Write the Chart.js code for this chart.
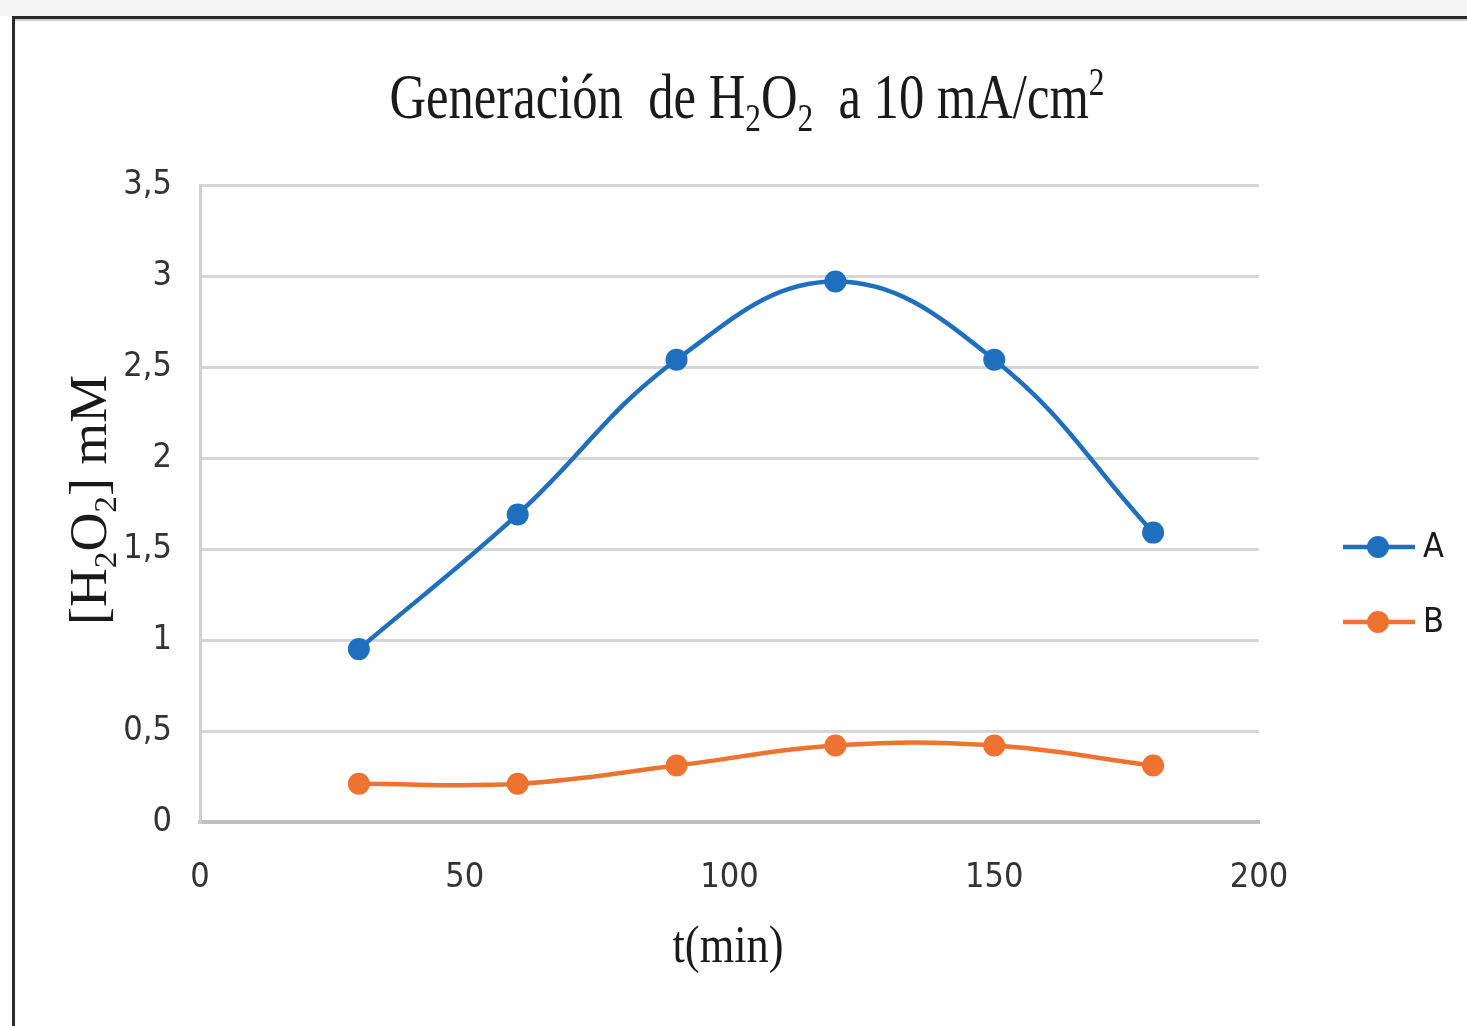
<!DOCTYPE html>
<html>
<head>
<meta charset="utf-8">
<script src="https://cdn.jsdelivr.net/npm/chart.js@4/dist/chart.umd.min.js"></script>
<style>
  html, body { margin: 0; padding: 0; background: #ffffff; }
  #lienzo { display: block; }
</style>
</head>
<body>
<canvas id="lienzo" width="1467" height="1026"></canvas>
<script>
/* ---------------- DATOS ---------------- */

const tiempos = [30, 60, 90, 120, 150, 180];
const serieA = [0.95, 1.69, 2.54, 2.97, 2.54, 1.59];
const serieB = [0.21, 0.21, 0.31, 0.42, 0.42, 0.31];
const nombresSeries = ['A', 'B'];
const coloresSeries = ['#1f6fbf', '#ef7330'];

const tituloPartes = [
  { t: 'Generación  de H' }, { t: '2', sub: true }, { t: 'O' }, { t: '2', sub: true },
  { t: '  a 10 mA/cm' }, { t: '2', sup: true }
];
const tituloY = [{ t: '[H' }, { t: '2', sub: true }, { t: 'O' }, { t: '2', sub: true }, { t: '] mM' }];
const tituloX = [{ t: 't(min)' }];

/* ---------------- FUENTES ---------------- */

const SERIF = "'Liberation Serif', 'Times New Roman', serif";
const ESTRECHA = "'Liberation Sans Narrow', 'DejaVu Sans Condensed', sans-serif";

/* ---------------- TEXTO CON SUBÍNDICES ---------------- */

function anchoParte(ctx, p, tam) {
  const t = (p.sub || p.sup) ? tam * 0.62 : tam;
  ctx.font = t + 'px ' + SERIF;
  return ctx.measureText(p.t).width;
}

function textoCompuesto(ctx, partes, tam, cx, cy, largo, angulo) {
  let total = 0;
  partes.forEach(p => { total += anchoParte(ctx, p, tam); });

  ctx.save();
  ctx.translate(cx, cy);
  ctx.rotate(angulo);
  ctx.scale(largo / total, 1);
  ctx.fillStyle = '#1a1a1a';
  ctx.textBaseline = 'alphabetic';
  ctx.textAlign = 'left';

  let x = -total / 2;
  partes.forEach(p => {
    const w = anchoParte(ctx, p, tam);
    let dy = 0;
    if (p.sub) dy = tam * 0.2;
    if (p.sup) dy = -tam * 0.36;
    ctx.fillText(p.t, x, dy);
    x += w;
  });
  ctx.restore();
}

/* ---------------- PLUGIN: MARCO, TÍTULOS, LEYENDA ---------------- */

const decoracion = {
  id: 'decoracion',

  beforeDraw(chart) {
    const ctx = chart.ctx;
    const W = chart.width, H = chart.height;
    ctx.save();
    ctx.fillStyle = '#ffffff';
    ctx.fillRect(0, 0, W, H);
    ctx.fillStyle = '#f5f5f5';
    ctx.fillRect(0, 0, W, 16);
    // marco
    ctx.fillStyle = '#2b2b2b';
    ctx.fillRect(12, 16, W - 12, 3);
    ctx.fillRect(12, 16, 3, H - 16);
    ctx.fillStyle = '#cfcfcf';
    ctx.fillRect(15, 19, W - 15, 2);
    ctx.restore();
  },

  afterDraw(chart) {
    const ctx = chart.ctx;

    // títulos
    textoCompuesto(ctx, tituloPartes, 64, 747, 118, 715, 0);
    textoCompuesto(ctx, tituloY, 52, 106, 500, 250, -Math.PI / 2);
    textoCompuesto(ctx, tituloX, 52, 728, 962, 111, 0);

    // leyenda
    chart.data.datasets.forEach((ds, i) => {
      const y = 547 + i * 75;
      ctx.save();
      ctx.strokeStyle = ds.borderColor;
      ctx.lineWidth = 4.5;
      ctx.beginPath();
      ctx.moveTo(1343, y);
      ctx.lineTo(1415, y);
      ctx.stroke();
      ctx.fillStyle = ds.borderColor;
      ctx.beginPath();
      ctx.arc(1378, y, 11, 0, Math.PI * 2);
      ctx.fill();
      ctx.fillStyle = '#1a1a1a';
      ctx.font = '34px ' + ESTRECHA;
      ctx.textBaseline = 'middle';
      ctx.textAlign = 'left';
      ctx.fillText(ds.label, 1423, y + 1);
      ctx.restore();
    });
  }
};

/* ---------------- GRÁFICO ---------------- */

function puntos(valores) {
  return tiempos.map((t, i) => ({ x: t, y: valores[i] }));
}

const series = [serieA, serieB];

new Chart(document.getElementById('lienzo'), {
  type: 'line',
  data: {
    datasets: series.map((valores, i) => ({
      label: nombresSeries[i],
      data: puntos(valores),
      borderColor: coloresSeries[i],
      backgroundColor: coloresSeries[i],
      borderWidth: 4.5,
      tension: 0.4,
      pointRadius: 11,
      pointBorderWidth: 0,
      pointBackgroundColor: coloresSeries[i],
      fill: false
    }))
  },
  options: {
    responsive: false,
    animation: false,
    layout: { padding: { left: 90, right: 208, top: 185, bottom: 104 } },
    plugins: {
      legend: { display: false },
      title: { display: false },
      tooltip: { enabled: false }
    },
    scales: {
      x: {
        type: 'linear',
        min: 0,
        max: 200,
        afterFit: s => { s.height = 100; },
        ticks: {
          stepSize: 50,
          color: '#333333',
          padding: 36,
          font: { family: ESTRECHA, size: 34 }
        },
        grid: { display: false, drawTicks: false },
        border: { display: true, color: '#bfbfbf', width: 4 }
      },
      y: {
        min: 0,
        max: 3.5,
        afterFit: s => { s.width = 110; },
        ticks: {
          stepSize: 0.5,
          color: '#333333',
          padding: 28,
          font: { family: ESTRECHA, size: 34 },
          callback: v => v.toString().replace('.', ',')
        },
        grid: { color: '#d6d6d6', lineWidth: 3, drawTicks: false },
        border: { display: true, color: '#d0d0d0', width: 3 }
      }
    }
  },
  plugins: [decoracion]
});
</script>
</body>
</html>
